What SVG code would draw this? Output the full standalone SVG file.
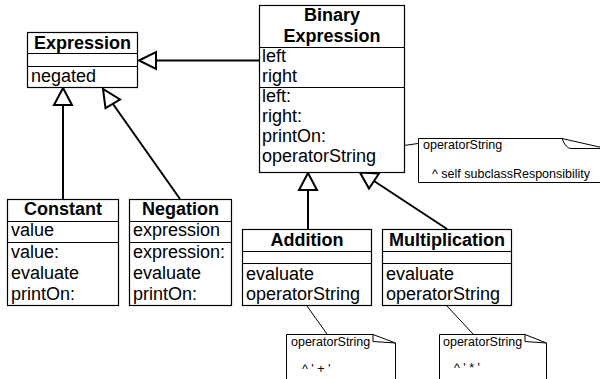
<svg xmlns="http://www.w3.org/2000/svg" width="600" height="379" viewBox="0 0 600 379">
<style>
.box{fill:#fff;stroke:#000;stroke-width:1.2}
.sep{stroke:#000;stroke-width:1.2}
.t{font-family:"Liberation Sans",Arial,Helvetica,sans-serif;font-size:18px;fill:#000}
.b{font-weight:bold;text-anchor:middle}
.n{font-family:"Liberation Sans",Arial,Helvetica,sans-serif;font-size:12.5px;fill:#000}
.gen{stroke:#000;stroke-width:2;fill:none}
.head{fill:#fff;stroke:#000;stroke-width:2;stroke-linejoin:miter}
.nl{stroke:#000;stroke-width:1;fill:none}
.note{fill:#fff;stroke:#000;stroke-width:1}
</style>
<rect width="600" height="379" fill="#fff"/>
<g id="connectors">
<line class="gen" x1="259" y1="60.5" x2="156" y2="60.5"/>
<polygon class="head" points="139,60.5 156,52 156,69"/>
<line class="gen" x1="63" y1="199" x2="63" y2="105"/>
<polygon class="head" points="63,88 54,105 72,105"/>
<line class="gen" x1="180" y1="199" x2="113" y2="104"/>
<polygon class="head" points="103,89 105.5,108 120,99.5"/>
<line class="gen" x1="308" y1="229" x2="308" y2="190"/>
<polygon class="head" points="308,173 299,190 317,190"/>
<line class="gen" x1="447" y1="229" x2="374" y2="181"/>
<polygon class="head" points="360,172.5 379,173.5 369,188.5"/>
<line class="nl" x1="404" y1="145.5" x2="418" y2="143.5"/>
<line class="nl" x1="307" y1="306" x2="327" y2="334"/>
<line class="nl" x1="447" y1="306" x2="473" y2="334"/>
</g>
<g id="Expression">
<rect class="box" x="27.5" y="32.5" width="110" height="55"/>
<line class="sep" x1="27.5" y1="53.5" x2="137.5" y2="53.5"/>
<line class="sep" x1="27.5" y1="66.5" x2="137.5" y2="66.5"/>
<text class="t b" x="82.5" y="49">Expression</text>
<text class="t" x="31" y="82">negated</text>
</g>
<g id="BinaryExpression">
<rect class="box" x="259.5" y="5.5" width="145" height="167"/>
<line class="sep" x1="259.5" y1="47.5" x2="404.5" y2="47.5"/>
<line class="sep" x1="259.5" y1="87.5" x2="404.5" y2="87.5"/>
<text class="t b" x="332" y="21">Binary</text>
<text class="t b" x="332" y="41.5">Expression</text>
<text class="t" x="262" y="62">left</text>
<text class="t" x="262" y="82">right</text>
<text class="t" x="262" y="102">left:</text>
<text class="t" x="262" y="122">right:</text>
<text class="t" x="262" y="142">printOn:</text>
<text class="t" x="262" y="162">operatorString</text>
</g>
<g id="Constant">
<rect class="box" x="7.5" y="199.5" width="111" height="106"/>
<line class="sep" x1="7.5" y1="221.5" x2="118.5" y2="221.5"/>
<line class="sep" x1="7.5" y1="242.5" x2="118.5" y2="242.5"/>
<text class="t b" x="63" y="215">Constant</text>
<text class="t" x="11" y="236">value</text>
<text class="t" x="11" y="258">value:</text>
<text class="t" x="11" y="279">evaluate</text>
<text class="t" x="11" y="300">printOn:</text>
</g>
<g id="Negation">
<rect class="box" x="129.5" y="199.5" width="102" height="106"/>
<line class="sep" x1="129.5" y1="221.5" x2="231.5" y2="221.5"/>
<line class="sep" x1="129.5" y1="242.5" x2="231.5" y2="242.5"/>
<text class="t b" x="180.5" y="215">Negation</text>
<text class="t" x="133" y="236">expression</text>
<text class="t" x="133" y="258">expression:</text>
<text class="t" x="133" y="279">evaluate</text>
<text class="t" x="133" y="300">printOn:</text>
</g>
<g id="Addition">
<rect class="box" x="242.5" y="229.5" width="129" height="76"/>
<line class="sep" x1="242.5" y1="251.5" x2="371.5" y2="251.5"/>
<line class="sep" x1="242.5" y1="263.5" x2="371.5" y2="263.5"/>
<text class="t b" x="307" y="246">Addition</text>
<text class="t" x="246" y="280">evaluate</text>
<text class="t" x="246" y="300">operatorString</text>
</g>
<g id="Multiplication">
<rect class="box" x="382.5" y="229.5" width="129" height="76"/>
<line class="sep" x1="382.5" y1="251.5" x2="511.5" y2="251.5"/>
<line class="sep" x1="382.5" y1="263.5" x2="511.5" y2="263.5"/>
<text class="t b" x="447" y="246">Multiplication</text>
<text class="t" x="386" y="280">evaluate</text>
<text class="t" x="386" y="300">operatorString</text>
</g>
<g id="NoteBinary">
<path class="note" d="M418.5,138.5 H562 L606,148.5 V182.5 H418.5 Z"/>
<path class="nl" d="M562,138.5 Q566,148.5 571,148.5 H606"/>
<text class="n" x="423" y="149">operatorString</text>
<text class="n" x="432" y="178">^ self subclassResponsibility</text>
</g>
<g id="NoteAddition">
<path class="note" d="M286.5,334.5 H373 L395.5,343 V385 H286.5 Z"/>
<path class="nl" d="M373,334.5 V341.5 L395.5,343"/>
<text class="n" x="291" y="346">operatorString</text>
<text class="n" x="302" y="373">^ ' + '</text>
</g>
<g id="NoteMultiplication">
<path class="note" d="M439.5,334.5 H525 L546.5,343 V385 H439.5 Z"/>
<path class="nl" d="M525,334.5 V341.5 L546.5,343"/>
<text class="n" x="443" y="346">operatorString</text>
<text class="n" x="454" y="372">^ ' * '</text>
</g>
</svg>
